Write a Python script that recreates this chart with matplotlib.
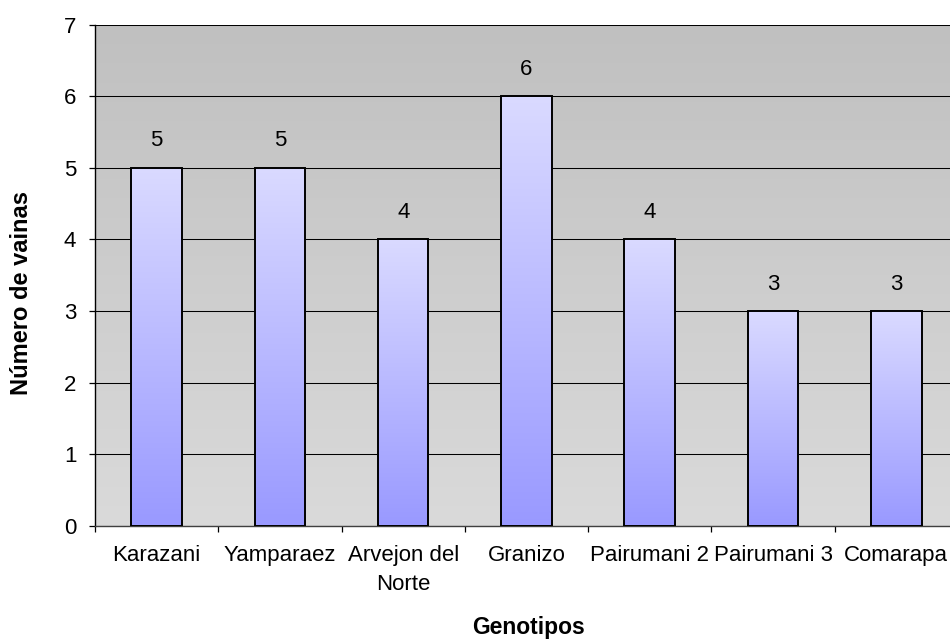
import numpy as np
import matplotlib
matplotlib.use("Agg")
import matplotlib.pyplot as plt
from matplotlib.colors import LinearSegmentedColormap

# Data
genotipos = ["Karazani", "Yamparaez", "Arvejon del\nNorte", "Granizo",
             "Pairumani 2", "Pairumani 3", "Comarapa"]
vainas = [5, 5, 4, 6, 4, 3, 3]
y_ticks = [0, 1, 2, 3, 4, 5, 6, 7]

plt.rcParams["font.family"] = ["Liberation Sans", "DejaVu Sans"]

fig = plt.figure(figsize=(9.5, 6.39), dpi=100)
ax = fig.add_axes([0.1, 0.1768, 0.9084, 0.7848])

# Plot-area background: vertical grey gradient
bg_cmap = LinearSegmentedColormap.from_list("bg", ["#dadada", "#c0c0c0"])
grad = np.linspace(0, 1, 256).reshape(-1, 1)
ax.imshow(grad, cmap=bg_cmap, origin="lower", aspect="auto",
          extent=[0, 1, 0, 1], transform=ax.transAxes, zorder=0)

x = np.arange(len(genotipos))
bars = ax.bar(x, vainas, width=0.41, facecolor="none", edgecolor="black",
              linewidth=1.4, zorder=3)

# Each bar filled with a lavender-to-blue gradient
bar_cmap = LinearSegmentedColormap.from_list("bar", ["#9999ff", "#dadaff"])
for b in bars:
    x0, y0 = b.get_x(), b.get_y()
    w, h = b.get_width(), b.get_height()
    im = ax.imshow(grad, cmap=bar_cmap, origin="lower", aspect="auto",
                   extent=[x0, x0 + w, y0, y0 + h], zorder=2)
    im.set_clip_path(b)

for xi, v in zip(x, vainas):
    ax.annotate(str(v), (xi, v), xytext=(0, 19.5), textcoords="offset points",
                ha="center", va="center", fontsize=16, zorder=4)

ax.set_xlim(-0.5, len(genotipos) - 0.5)
ax.set_ylim(0, 7)
ax.set_yticks(y_ticks)
ax.set_yticklabels([str(t) for t in y_ticks])
ax.set_xticks(np.arange(len(genotipos) + 1) - 0.5, minor=False)
ax.set_xticklabels([])
ax.set_xticks(x, minor=True)
ax.set_xticklabels(genotipos, minor=True, linespacing=1.45)

ax.yaxis.grid(True, color="black", linewidth=0.75, zorder=1)
ax.set_axisbelow(True)

ax.tick_params(axis="y", which="major", direction="out", length=4.5, width=0.9,
               pad=9, labelsize=16, colors="black")
ax.tick_params(axis="x", which="major", direction="out", length=4, width=0.9)
ax.tick_params(axis="x", which="minor", length=0, pad=14, labelsize=16)

for side in ["top", "right"]:
    ax.spines[side].set_visible(False)
ax.spines["left"].set_linewidth(1.0)
ax.spines["bottom"].set_linewidth(1.0)
ax.spines["bottom"].set_color("#404040")

ax.set_xlabel("Genotipos", fontsize=16.5, fontweight="bold")
ax.xaxis.set_label_coords(0.502, -0.2014)
ax.xaxis.label.set_verticalalignment("center")

ax.set_ylabel("Número de vainas", fontsize=17, fontweight="bold")
ax.yaxis.set_label_coords(-0.0857, 0.4646)
ax.yaxis.label.set_verticalalignment("center")

fig.savefig("out.png", dpi=100)
